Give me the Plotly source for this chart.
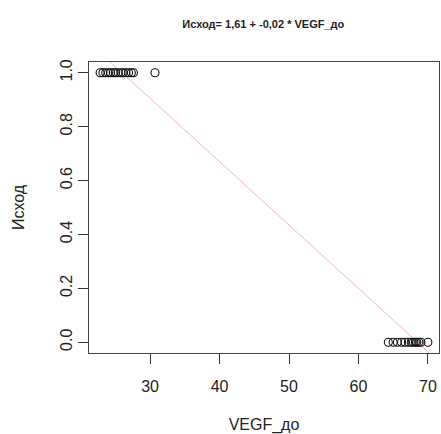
import plotly.graph_objects as go

# VEGF before treatment, grouped by outcome
vegf_outcome1 = [22.8, 23.2, 23.6, 24.0, 24.3, 24.7, 25.0, 25.4, 25.8, 26.1, 26.5, 26.9, 27.3, 27.6, 30.7]
vegf_outcome0 = [64.3, 65.0, 65.6, 66.2, 66.7, 67.2, 67.6, 67.9, 68.2, 68.4, 68.7, 69.0, 70.0]

# fitted linear model: Исход = intercept + slope * VEGF_до
intercept = 1.61
slope = -0.0235

x_ticks = [30, 40, 50, 60, 70]
y_ticks = [0.0, 0.2, 0.4, 0.6, 0.8, 1.0]
y_tick_labels = ["0.0", "0.2", "0.4", "0.6", "0.8", "1.0"]

x_range = [21.2, 71.6]
y_range = [-0.04, 1.04]

xs = vegf_outcome1 + vegf_outcome0
ys = [1] * len(vegf_outcome1) + [0] * len(vegf_outcome0)


def fmt(v):
    return f"{v:.2f}".replace(".", ",")


title_text = f"<b>Исход= {fmt(intercept)} + {fmt(slope)} * VEGF_до</b>"

fig = go.Figure()

# regression line across the whole x range
line_x = [x_range[0], x_range[1]]
line_y = [intercept + slope * v for v in line_x]
fig.add_trace(go.Scatter(
    x=line_x, y=line_y, mode="lines",
    line=dict(color="rgba(235,120,140,0.55)", width=1),
    hoverinfo="skip", showlegend=False,
))

fig.add_trace(go.Scatter(
    x=xs, y=ys, mode="markers",
    marker=dict(symbol="circle-open", size=8, color="#111111", line=dict(width=1.1)),
    showlegend=False,
))

font_family = "Liberation Sans, Arial, sans-serif"

fig.update_layout(
    width=441, height=434,
    margin=dict(l=89, r=2, t=62, b=81),
    paper_bgcolor="white", plot_bgcolor="white",
    font=dict(family=font_family, color="#222222", size=16),
    title=dict(text=title_text, x=0.597, xanchor="center", y=0.945, yanchor="middle",
               font=dict(size=11, color="#222222")),
    showlegend=False,
)

fig.update_xaxes(
    range=x_range, tickvals=x_ticks, ticks="outside", ticklen=10, tickwidth=1,
    tickcolor="#333333", showline=True, linecolor="#444444", linewidth=1, mirror=True,
    showgrid=False, zeroline=False, tickfont=dict(size=16), ticklabelstandoff=9,
    title=dict(text="VEGF_до", font=dict(size=16), standoff=25),
)
fig.update_yaxes(
    range=y_range, tickvals=y_ticks, ticktext=y_tick_labels, tickangle=-90,
    ticks="outside", ticklen=10, tickwidth=1, tickcolor="#333333",
    showline=True, linecolor="#444444", linewidth=1, mirror=True,
    showgrid=False, zeroline=False, tickfont=dict(size=16), ticklabelstandoff=0,
    title=dict(text="Исход", font=dict(size=16), standoff=28),
)

fig.write_html("out.html")
